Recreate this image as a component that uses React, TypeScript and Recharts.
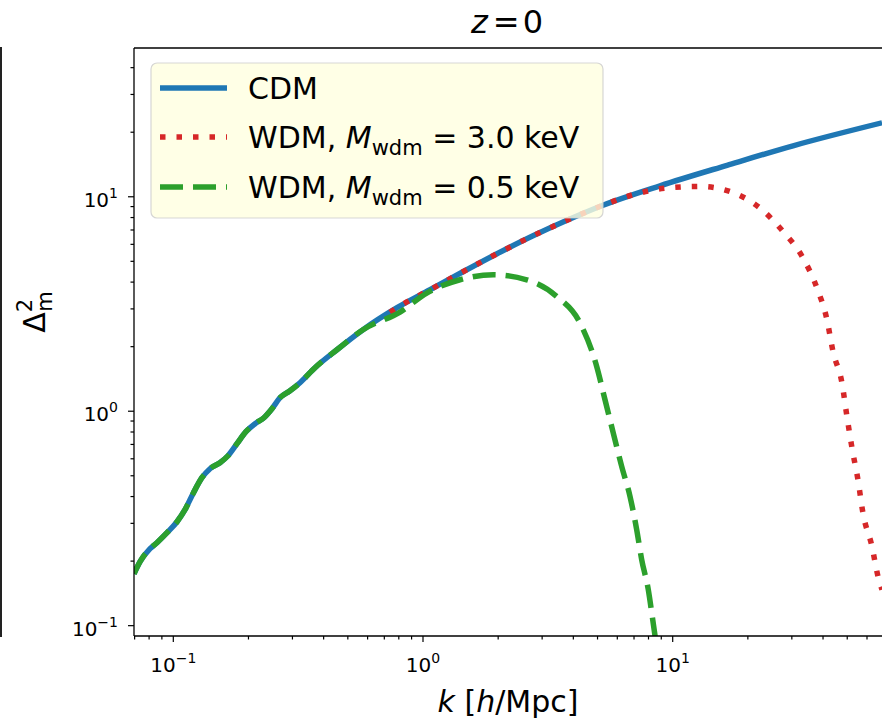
import React from "react";
import { LineChart, Line, XAxis, YAxis, ReferenceLine } from "recharts";

// CDM power spectrum
const cdmK = [
  0.0696, 0.0736, 0.0807, 0.086, 0.0944, 0.1035, 0.1114, 0.1199, 0.1302, 0.1403,
  0.1538, 0.1656, 0.1799, 0.1954, 0.2125, 0.2307, 0.2484, 0.2676, 0.2934, 0.3217,
  0.3694, 0.4523, 0.575, 0.787, 1.067, 1.446, 1.979, 2.758, 3.773, 5.259, 8.896,
  16.5, 30.33, 68.9,
];
const cdmD = [
  0.1747, 0.1988, 0.2286, 0.2438, 0.2714, 0.3053, 0.3473, 0.4124, 0.4898, 0.5395,
  0.5754, 0.62, 0.7057, 0.8025, 0.8743, 0.9326, 1.027, 1.156, 1.246, 1.358,
  1.595, 1.935, 2.399, 3.038, 3.685, 4.47, 5.425, 6.579, 7.771, 9.129, 11.25,
  14.02, 17.29, 22.13,
];

// WDM, 3.0 keV
const wdm3K = [
  0.737, 0.787, 1.067, 1.446, 1.979, 2.758, 3.773, 5.259, 6.93, 9.49, 12.86, 16.95,
  22.36, 27.66, 33.27, 37.83, 41.48, 43.85, 47.63, 49.87, 52.25, 55.2, 57.8,
  62.8, 66.4, 68.9,
];
const wdm3D = [
  2.892, 3.038, 3.685, 4.47, 5.425, 6.579, 7.771, 9.129, 10.22, 10.98, 11.17, 10.58,
  8.86, 6.89, 5.18, 3.753, 2.671, 1.9, 1.354, 0.9457, 0.6739, 0.4793, 0.3353,
  0.2344, 0.1698, 0.1472,
];

// WDM, 0.5 keV
const wdm05K = [
  0.0696, 0.0736, 0.0807, 0.086, 0.0944, 0.1035, 0.1114, 0.1199, 0.1302, 0.1403,
  0.1538, 0.1656, 0.1799, 0.1954, 0.2125, 0.2307, 0.2484, 0.2676, 0.2934, 0.3217,
  0.3694, 0.4523, 0.575, 0.809, 1.035, 1.406, 1.912, 2.602, 3.431, 4.254, 4.962,
  5.357, 5.782, 6.247, 6.745, 7.175, 7.514, 7.984, 8.317, 8.495, 8.65,
];
const wdm05D = [
  0.1747, 0.1988, 0.2286, 0.2438, 0.2714, 0.3053, 0.3473, 0.4124, 0.4898, 0.5395,
  0.5754, 0.62, 0.7057, 0.8025, 0.8743, 0.9326, 1.027, 1.156, 1.246, 1.358,
  1.595, 1.935, 2.399, 2.9, 3.557, 4.102, 4.329, 4.102, 3.429, 2.578, 1.618,
  1.131, 0.791, 0.553, 0.4008, 0.2803, 0.2031, 0.1472, 0.1066, 0.0898, 0.0773,
];

const xMajor = [0.1, 1, 10];
const xMinor = [
  0.07, 0.08, 0.09, 0.2, 0.3, 0.4, 0.5, 0.6, 0.7, 0.8, 0.9,
  2, 3, 4, 5, 6, 7, 8, 9, 20, 30, 40, 50, 60,
];
const yMajor = [0.1, 1, 10];
const yMinor = [
  0.2, 0.3, 0.4, 0.5, 0.6, 0.7, 0.8, 0.9, 2, 3, 4, 5, 6, 7, 8, 9, 20, 30, 40,
];
const majorExp = ["\u22121", "0", "1"];

const xDomain = [0.0696, 68.9];
const yDomain = [0.0895, 49.4];

const seriesNames = ["CDM", "WDM, ", "WDM, "];
const seriesMass = ["", "3.0", "0.5"];

const BLUE = "#1f77b4";
const RED = "#d62728";
const GREEN = "#2ca02c";
const FONT = "'DejaVu Sans', sans-serif";

const toPoints = (ks: number[], ds: number[]) => ks.map((k, i) => ({ k, d: ds[i] }));
const cdm = toPoints(cdmK, cdmD);
const wdm3 = toPoints(wdm3K, wdm3D);
const wdm05 = toPoints(wdm05K, wdm05D);

function XTick(props: any) {
  const { x, y, payload } = props;
  const i = xMajor.indexOf(payload.value);
  return (
    <g>
      <line x1={x} x2={x} y1={y} y2={y + (i >= 0 ? 6 : 3.5)} stroke="#000" strokeWidth={1.2} />
      {i >= 0 && (
        <text x={x} y={y + 36} textAnchor="middle" fontSize={20} fontFamily={FONT} fill="#000">
          10<tspan dy={-9} fontSize={14}>{majorExp[i]}</tspan>
        </text>
      )}
    </g>
  );
}

function YTick(props: any) {
  const { x, y, payload } = props;
  const i = yMajor.indexOf(payload.value);
  return (
    <g>
      <line x1={x - (i >= 0 ? 6 : 3.5)} x2={x} y1={y} y2={y} stroke="#000" strokeWidth={1.2} />
      {i >= 0 && (
        <text x={x - 16} y={y + 10} textAnchor="end" fontSize={20} fontFamily={FONT} fill="#000">
          10<tspan dy={-9} fontSize={14}>{majorExp[i]}</tspan>
        </text>
      )}
    </g>
  );
}

function LegendBox() {
  const rows = [
    { color: BLUE, dash: undefined, y: 88 },
    { color: RED, dash: "5.5 11", y: 137 },
    { color: GREEN, dash: "23 10", y: 187 },
  ];
  return (
    <g>
      <rect x={151} y={63} width={452} height={155} rx={6} fill="#ffffe0" fillOpacity={0.8}
        stroke="#cccccc" strokeOpacity={0.8} strokeWidth={1.2} />
      {rows.map((r, i) => (
        <g key={i}>
          <line x1={160} x2={227} y1={r.y} y2={r.y} stroke={r.color} strokeWidth={5.5}
            strokeDasharray={r.dash} />
          <text x={248} y={r.y + 10.5} fontSize={30} fontFamily={FONT} fill="#000">
            {seriesNames[i]}
            {seriesMass[i] && (
              <>
                <tspan fontStyle="italic">M</tspan>
                <tspan fontSize={21} dy={7}>wdm</tspan>
                <tspan dy={-7}>{" = " + seriesMass[i] + " keV"}</tspan>
              </>
            )}
          </text>
        </g>
      ))}
    </g>
  );
}

export default function App() {
  return (
    <div style={{ position: "absolute", left: 0, top: 0, width: 882, height: 720, background: "#fff", fontFamily: FONT }}>
      <div style={{ position: "absolute", left: 0, top: 47, width: 2, height: 590, background: "#222" }} />
      <div style={{ position: "absolute", left: 0, top: 0 }}>
        <LineChart width={882} height={720} margin={{ top: 48, right: 0, bottom: 0, left: 0 }}>
          <XAxis
            dataKey="k"
            type="number"
            scale="log"
            domain={xDomain}
            allowDataOverflow
            ticks={[...xMajor, ...xMinor].sort((a, b) => a - b)}
            interval={0}
            tickSize={0}
            tickMargin={0}
            tickLine={false}
            tick={(p: any) => <XTick {...p} />}
            axisLine={{ stroke: "#000", strokeWidth: 1.3 }}
            height={84}
          />
          <YAxis
            type="number"
            scale="log"
            domain={yDomain}
            allowDataOverflow
            ticks={[...yMajor, ...yMinor].sort((a, b) => a - b)}
            interval={0}
            tickSize={0}
            tickMargin={0}
            tickLine={false}
            tick={(p: any) => <YTick {...p} />}
            axisLine={{ stroke: "#000", strokeWidth: 1.3 }}
            width={134}
          />
          <ReferenceLine y={yDomain[1]} stroke="#000" strokeWidth={1.3} />
          <Line data={cdm} dataKey="d" type="monotone" stroke={BLUE} strokeWidth={5.5}
            dot={false} activeDot={false} isAnimationActive={false} />
          <Line data={wdm3} dataKey="d" type="monotone" stroke={RED} strokeWidth={5.5}
            strokeDasharray="5.5 11" dot={false} activeDot={false} isAnimationActive={false} />
          <Line data={wdm05} dataKey="d" type="monotone" stroke={GREEN} strokeWidth={5.5}
            strokeDasharray="23 10" dot={false} activeDot={false} isAnimationActive={false} />
        </LineChart>
      </div>
      <svg width={882} height={720} style={{ position: "absolute", left: 0, top: 0, pointerEvents: "none" }}>
        <text x={507} y={33} textAnchor="middle" fontSize={32} fontFamily={FONT} fill="#000">
          <tspan fontStyle="italic">z</tspan>
          <tspan dx={5}>=</tspan>
          <tspan dx={3}>0</tspan>
        </text>
        <text x={508} y={712} textAnchor="middle" fontSize={30} fontFamily={FONT} fill="#000">
          <tspan fontStyle="italic">k</tspan>
          {" ["}
          <tspan fontStyle="italic">h</tspan>
          {"/Mpc]"}
        </text>
        <text transform="translate(45,312) rotate(-90)" textAnchor="middle" fontSize={30} fontFamily={FONT} fill="#000">
          Δ<tspan dy={-13} fontSize={21}>2</tspan>
          <tspan dx={-13} dy={20} fontSize={21}>m</tspan>
        </text>
        <LegendBox />
      </svg>
    </div>
  );
}
